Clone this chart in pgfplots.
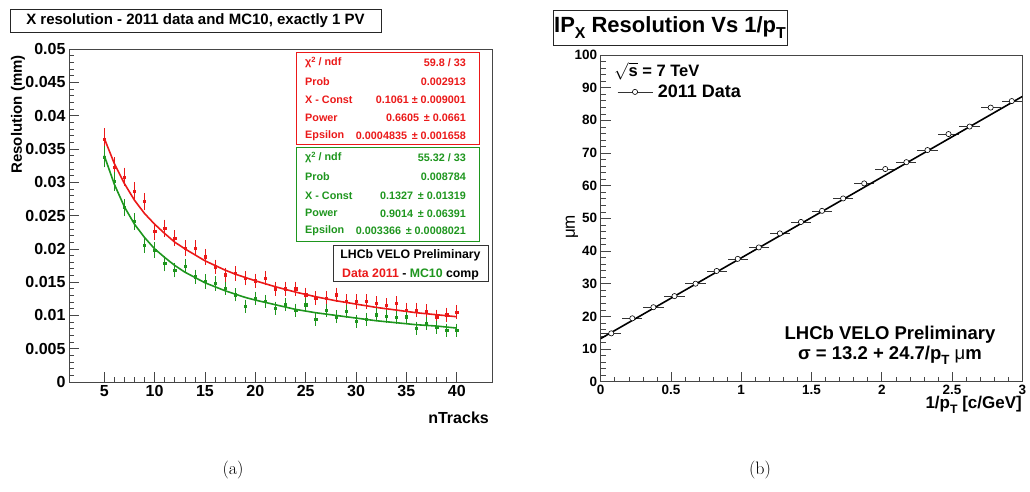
\documentclass[border=0pt]{standalone}
\usepackage{fontspec}
\setsansfont{Liberation Sans}
\usepackage{graphicx}
\usepackage{pgfplots}
\pgfplotsset{compat=1.18}
\definecolor{rred}{RGB}{235,25,25}
\definecolor{rgreen}{RGB}{30,150,30}
\definecolor{frm}{RGB}{70,70,70}
\newcommand{\fs}[1]{\fontsize{#1}{#1}\selectfont}
\newcommand{\sub}[1]{\raisebox{-0.5ex}{\scalebox{0.72}{#1}}}
\newcommand{\chisq}{χ\raisebox{0.6ex}{\scalebox{0.7}{2}} / ndf}

\pgfplotstableread{
n v e
5 0.0364 0.0013
6 0.0323 0.0011
7 0.0308 0.0010
8 0.0286 0.0010
9 0.0271 0.0009
10 0.0226 0.0009
11 0.0231 0.0009
12 0.0216 0.0008
13 0.0201 0.0008
14 0.0201 0.0008
15 0.0188 0.0008
16 0.0173 0.0007
17 0.0161 0.0007
18 0.0163 0.0007
19 0.0156 0.0007
20 0.0152 0.0007
21 0.0156 0.0007
22 0.0140 0.0007
23 0.0140 0.0007
24 0.0140 0.0007
25 0.0131 0.0007
26 0.0126 0.0007
27 0.0126 0.0007
28 0.0131 0.0007
29 0.0121 0.0007
30 0.0121 0.0007
31 0.0121 0.0007
32 0.0118 0.0007
33 0.0115 0.0007
34 0.0118 0.0007
35 0.0108 0.0007
36 0.0108 0.0007
37 0.0106 0.0007
38 0.0098 0.0007
39 0.0101 0.0007
40 0.0105 0.0007
}\reddata

\pgfplotstableread{
n v e
5 0.0338 0.0012
6 0.0301 0.0010
7 0.0262 0.0009
8 0.0241 0.0009
9 0.0206 0.0008
10 0.0198 0.0008
11 0.0178 0.0008
12 0.0168 0.0007
13 0.0174 0.0007
14 0.0158 0.0007
15 0.0151 0.0007
16 0.0148 0.0007
17 0.0141 0.0006
18 0.0131 0.0006
19 0.0114 0.0006
20 0.0126 0.0006
21 0.0121 0.0006
22 0.0111 0.0006
23 0.0116 0.0006
24 0.0108 0.0006
25 0.0116 0.0006
26 0.0094 0.0006
27 0.0108 0.0006
28 0.0098 0.0006
29 0.0106 0.0006
30 0.0091 0.0006
31 0.0094 0.0006
32 0.0101 0.0006
33 0.0099 0.0006
34 0.0097 0.0006
35 0.0098 0.0006
36 0.0081 0.0006
37 0.0088 0.0006
38 0.0082 0.0006
39 0.0078 0.0006
40 0.0078 0.0006
}\greendata

\pgfplotstableread{
x y
0.075 14.8
0.225 19.4
0.375 22.8
0.525 26.2
0.675 30.0
0.825 33.9
0.975 37.6
1.125 41.1
1.275 45.4
1.425 48.9
1.575 52.3
1.725 56.1
1.875 60.7
2.025 65.1
2.175 67.2
2.325 70.9
2.475 75.8
2.625 78.1
2.775 83.9
2.925 85.9
}\ipdata

\pgfplotsset{
  rootaxis/.style={
    scale only axis,
    xtick pos=bottom, ytick pos=left, tick align=inside,
    major tick length=10pt, minor tick length=5pt,
    axis line style={frm, line width=0.7pt},
    every tick/.style={frm, line width=0.6pt},
    /pgf/number format/assume math mode=true,
    scaled ticks=false,
  }
}

\begin{document}
\begin{tikzpicture}
\path[use as bounding box] (0pt,0pt) rectangle (1030pt,491pt);

% ---------------- left panel ----------------
\begin{axis}[rootaxis,
  at={(69pt,109pt)}, anchor=south west, width=423pt, height=333pt,
  xmin=1.5, xmax=43.5, ymin=0, ymax=0.05,
  xtick={5,10,15,20,25,30,35,40},
  ytick={0,0.005,0.01,0.015,0.02,0.025,0.03,0.035,0.04,0.045,0.05},
  yticklabels={0,0.005,0.01,0.015,0.02,0.025,0.03,0.035,0.04,0.045,0.05},
  minor x tick num=4, minor y tick num=4,
  tick label style={font=\sffamily\bfseries\fs{16}},
]
\addplot[rred, line width=1.6pt] coordinates {
(5,0.0366) (6,0.0328) (7,0.0298) (8,0.0273) (9,0.0253) (10,0.0237) (11,0.0223) (12,0.0210)
(13,0.0200) (14,0.0191) (15,0.0182) (16,0.0175) (17,0.0168) (18,0.0162) (19,0.0157) (20,0.0152)
(22,0.0143) (24,0.0135) (26,0.0128) (28,0.0122) (30,0.0117) (32,0.0112) (34,0.0108)
(36,0.0104) (38,0.0101) (40,0.0098)};
\addplot[rgreen, line width=1.6pt] coordinates {
(5,0.0340) (6,0.0297) (7,0.0263) (8,0.0237) (9,0.0217) (10,0.0200) (11,0.0187) (12,0.0175)
(13,0.0165) (14,0.0157) (15,0.0149) (16,0.0143) (17,0.0137) (18,0.0132) (19,0.0127) (20,0.0123)
(22,0.0116) (24,0.0109) (26,0.0104) (28,0.0100) (30,0.0096) (32,0.0092) (34,0.0089)
(36,0.0086) (38,0.0084) (40,0.0081)};
\addplot[rred, only marks, mark=square*, mark size=1.1pt,
  error bars/.cd, y dir=both, y explicit, error bar style={line width=0.6pt},
  error mark options={mark size=2.5pt, line width=0.6pt}]
  table[x=n, y=v, y error=e] {\reddata};
\addplot[rgreen, only marks, mark=square*, mark size=1.1pt,
  error bars/.cd, y dir=both, y explicit, error bar style={line width=0.6pt},
  error mark options={mark size=2.5pt, line width=0.6pt}]
  table[x=n, y=v, y error=e] {\greendata};
\end{axis}

% ---------------- right panel ----------------
\begin{axis}[rootaxis,
  at={(600.7pt,109.3pt)}, anchor=south west, width=421.6pt, height=326.7pt,
  xmin=0, xmax=3, ymin=0, ymax=100,
  xtick={0,0.5,1,1.5,2,2.5,3}, xticklabels={0,0.5,1,1.5,2,2.5,3},
  ytick={0,10,20,30,40,50,60,70,80,90,100},
  minor x tick num=4, minor y tick num=4,
  tick label style={font=\sffamily\bfseries\fs{13.5}},
  legend style={at={(rel axis cs:0.0387,0.887)}, anchor=west, draw=none, fill=none,
    inner sep=0pt, column sep=4pt, font=\sffamily\bfseries\fs{18}, nodes={inner sep=1pt}},
  legend cell align=left,
  legend image code/.code={
    \draw[black!80, line width=0.6pt] (0pt,0pt) -- (35pt,0pt);
    \draw[black, fill=white, line width=0.6pt] (17.5pt,0pt) circle (2.6pt);},
]
\addplot[black, only marks, mark=*, mark size=2.6pt, mark options={fill=white, draw=black, line width=0.6pt},
  error bars/.cd, x dir=both, x fixed=0.072, error mark=none, error bar style={line width=0.6pt, black!80}]
  table[x=x, y=y] {\ipdata};
\addlegendentry{2011 Data}
\addplot[black, line width=1.6pt, forget plot] coordinates {(0,13.2) (3,87.3)};
\end{axis}

\begin{scope}[x=1pt, y=1pt]
% stats boxes
\draw[rred, line width=0.8pt, fill=white] (296,347) rectangle (479,438.7);
\draw[rgreen, line width=0.8pt, fill=white] (296,250) rectangle (479,343.7);
\begin{scope}[every node/.style={inner sep=0pt, font=\sffamily\bfseries\fs{10.8}}]
\node[rred, anchor=west] at (305,428.3) {\chisq};
\node[rred, anchor=east] at (466,428.3) {59.8 / 33};
\node[rred, anchor=west] at (305,409.3) {Prob};
\node[rred, anchor=east] at (466,409.3) {0.002913};
\node[rred, anchor=west] at (305,391.7) {X - Const};
\node[rred, anchor=east] at (466,391.7) {0.1061 ± 0.009001};
\node[rred, anchor=west] at (305,373.3) {Power};
\node[rred, anchor=east] at (466,373.3) {0.6605 \,± 0.0661};
\node[rred, anchor=west] at (305,355.3) {Epsilon};
\node[rred, anchor=east] at (466,355.3) {0.0004835 \,± 0.001658};
\node[rgreen, anchor=west] at (305,333.3) {\chisq};
\node[rgreen, anchor=east] at (466,333.3) {55.32 / 33};
\node[rgreen, anchor=west] at (305,314.3) {Prob};
\node[rgreen, anchor=east] at (466,314.3) {0.008784};
\node[rgreen, anchor=west] at (305,295.7) {X - Const};
\node[rgreen, anchor=east] at (466,295.7) {0.1327 \,± 0.01319};
\node[rgreen, anchor=west] at (305,277.7) {Power};
\node[rgreen, anchor=east] at (466,277.7) {0.9014 \,± 0.06391};
\node[rgreen, anchor=west] at (305,260) {Epsilon};
\node[rgreen, anchor=east] at (466,260) {0.003366 \,± 0.0008021};
\end{scope}
\draw[black!80, line width=0.8pt, fill=white] (333,209.3) rectangle (488,246);
\node[inner sep=0pt, font=\sffamily\bfseries\fs{12.3}] at (410.5,236) {LHCb VELO Preliminary};
\node[inner sep=0pt, font=\sffamily\bfseries\fs{12.3}] at (410.5,216.5) {\textcolor{rred}{Data 2011} - \textcolor{rgreen}{MC10} comp};

% left labels
\node[draw=black!85, line width=0.8pt, fill=white, minimum width=371pt, minimum height=23pt, inner sep=0pt,
  font=\sffamily\bfseries\fs{15}] at (195.5,470.5) {X resolution - 2011 data and MC10, exactly 1 PV};
\node[rotate=90, anchor=east, inner sep=0pt, font=\sffamily\bfseries\fs{15}] at (18,436) {Resolution (mm)};
\node[anchor=east, inner sep=0pt, font=\sffamily\bfseries\fs{16}] at (489,73) {nTracks};

% right labels
\node[draw=black!85, line width=0.8pt, fill=white, minimum width=234pt, minimum height=35pt, inner sep=0pt,
  font=\sffamily\bfseries\fs{22}] at (670,463.5) {IP\sub{X} Resolution Vs 1/p\sub{T}};
\node[anchor=west, inner sep=0pt, font=\sffamily\bfseries\fs{16.5}] at (614,420) {$\sqrt{\mbox{\sffamily\bfseries s}}$ = 7 TeV};
\node[inner sep=0pt, font=\sffamily\bfseries\fs{18.5}] at (890,156) {LHCb VELO Preliminary};
\node[inner sep=0pt, font=\sffamily\bfseries\fs{18.5}] at (890,136) {σ = 13.2 + 24.7/p\sub{T} \textmd{μ}m};
\node[rotate=90, inner sep=0pt, font=\sffamily\fs{17}] at (572,264) {μm};
\node[anchor=east, inner sep=0pt, font=\sffamily\bfseries\fs{17}] at (1022,86) {1/p\sub{T} [c/GeV]};

% captions
\node[font=\fs{18}] at (233,21) {(a)};
\node[font=\fs{18}] at (760,21) {(b)};
\end{scope}
\end{tikzpicture}
\end{document}
